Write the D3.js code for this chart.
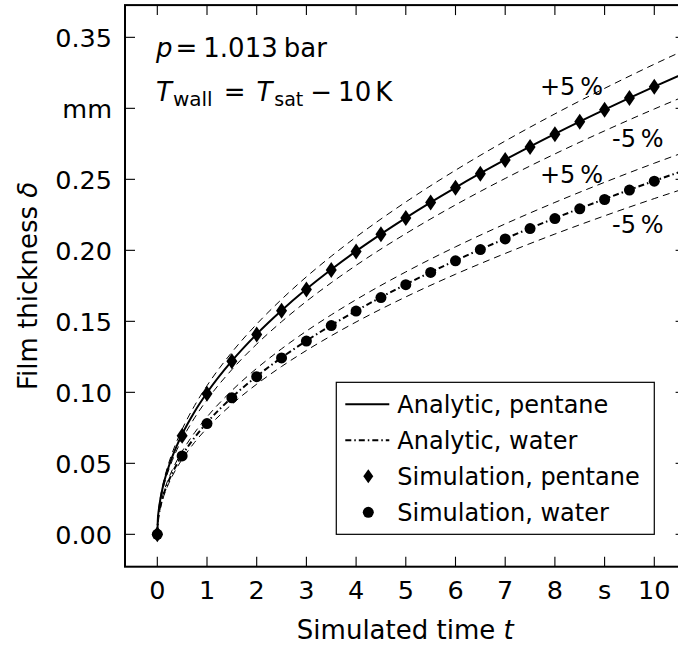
<!DOCTYPE html>
<html>
<head>
<meta charset="utf-8">
<script src="https://cdn.jsdelivr.net/npm/d3@7"></script>
<style>
  html, body { margin: 0; padding: 0; background: #fff; }
  svg { display: block; font-family: "DejaVu Sans", sans-serif; }
</style>
</head>
<body>
<svg id="chart" width="678" height="650"></svg>
<script>
// Simulated time axis (s) and tick labels (unit shown in place of 9)
const timeTicks = [0, 1, 2, 3, 4, 5, 6, 7, 8, 9, 10];
const timeTickLabels = ["0", "1", "2", "3", "4", "5", "6", "7", "8", "s", "10"];

// Film thickness axis (mm) and tick labels (unit shown in place of 0.30)
const deltaTicks = [0, 0.05, 0.10, 0.15, 0.20, 0.25, 0.30, 0.35];
const deltaTickLabels = ["0.00", "0.05", "0.10", "0.15", "0.20", "0.25", "mm", "0.35"];

// Analytic solutions, sampled in time
const analyticTime = [0, 0.01, 0.03, 0.06, 0.1, 0.15, 0.2, 0.3, 0.4, 0.5, 0.75, 1, 1.5, 2, 2.5, 3, 3.5, 4, 5, 6, 7, 8, 9, 10, 10.7];
const analyticPentane = [0, 0.00997, 0.01727, 0.02442, 0.03153, 0.03861, 0.04459, 0.05461, 0.06306, 0.07050, 0.08634, 0.0997, 0.1221, 0.1410, 0.1576, 0.1727, 0.1865, 0.1994, 0.2229, 0.2442, 0.2638, 0.2820, 0.2991, 0.3153, 0.3261];
const analyticWater = [0, 0.00787, 0.01363, 0.01927, 0.02489, 0.03048, 0.03519, 0.04310, 0.04978, 0.05565, 0.06816, 0.0787, 0.0964, 0.1113, 0.1244, 0.1363, 0.1472, 0.1574, 0.1760, 0.1928, 0.2082, 0.2226, 0.2361, 0.2489, 0.2574];

// Simulation results
const simTime = [0, 0.5, 1, 1.5, 2, 2.5, 3, 3.5, 4, 4.5, 5, 5.5, 6, 6.5, 7, 7.5, 8, 8.5, 9, 9.5, 10];
const simPentane = [0, 0.0695, 0.0990, 0.1218, 0.1408, 0.1574, 0.1725, 0.1862, 0.1992, 0.2113, 0.2227, 0.2336, 0.2440, 0.2540, 0.2636, 0.2728, 0.2818, 0.2905, 0.2990, 0.3072, 0.3152];
const simWater = [0, 0.0552, 0.0780, 0.0961, 0.1110, 0.1242, 0.1361, 0.1470, 0.1572, 0.1667, 0.1758, 0.1844, 0.1926, 0.2005, 0.2080, 0.2153, 0.2224, 0.2292, 0.2358, 0.2424, 0.2487];

// Tolerance bands around the analytic solutions
const bandFactors = [1.05, 0.95];
const bandLabels = [
  { text: "+5\u2009%", t: 7.70, d: 0.3094 },
  { text: "-5\u2009%", t: 9.15, d: 0.2728 },
  { text: "+5\u2009%", t: 7.70, d: 0.2473 },
  { text: "-5\u2009%", t: 9.15, d: 0.2121 }
];

const legendItems = ["Analytic, pentane", "Analytic, water", "Simulation, pentane", "Simulation, water"];

const svg = d3.select("#chart");

const x = d3.scaleLinear().domain([-0.65, 10.63]).range([125, 685.6]);
const y = d3.scaleLinear().domain([-0.0228, 0.3727]).range([566.7, 5.1]);

const [xl, xr] = x.range();
const [yb, yt] = y.range();

svg.append("defs").append("clipPath").attr("id", "plot-clip")
  .append("rect").attr("x", xl).attr("y", yt).attr("width", xr - xl).attr("height", yb - yt);

const plot = svg.append("g").attr("clip-path", "url(#plot-clip)");

const line = d3.line()
  .x(d => x(d[0]))
  .y(d => y(d[1]))
  .curve(d3.curveMonotoneX);

const pentanePts = analyticTime.map((t, i) => [t, analyticPentane[i]]);
const waterPts = analyticTime.map((t, i) => [t, analyticWater[i]]);

// dashed ±5 % bands
[pentanePts, waterPts].forEach(pts => {
  bandFactors.forEach(f => {
    plot.append("path")
      .attr("d", line(pts.map(p => [p[0], p[1] * f])))
      .attr("fill", "none")
      .attr("stroke", "#000")
      .attr("stroke-width", 1)
      .attr("stroke-dasharray", "7,5");
  });
});

// analytic curves
plot.append("path")
  .attr("d", line(pentanePts))
  .attr("fill", "none").attr("stroke", "#000").attr("stroke-width", 2);
plot.append("path")
  .attr("d", line(waterPts))
  .attr("fill", "none").attr("stroke", "#000").attr("stroke-width", 2)
  .attr("stroke-dasharray", "6,3,1.5,3");

// simulation markers
const diamond = (cx, cy, w, h) => `M${cx},${cy - h}L${cx + w},${cy}L${cx},${cy + h}L${cx - w},${cy}Z`;
plot.selectAll("path.sim-pentane")
  .data(simTime.map((t, i) => [t, simPentane[i]]))
  .join("path")
  .attr("class", "sim-pentane")
  .attr("d", d => diamond(x(d[0]), y(d[1]), 5.5, 8))
  .attr("fill", "#000");
plot.selectAll("circle.sim-water")
  .data(simTime.map((t, i) => [t, simWater[i]]))
  .join("circle")
  .attr("class", "sim-water")
  .attr("cx", d => x(d[0])).attr("cy", d => y(d[1])).attr("r", 5.5)
  .attr("fill", "#000");

// band labels
svg.selectAll("text.band")
  .data(bandLabels)
  .join("text")
  .attr("class", "band")
  .attr("x", d => x(d.t)).attr("y", d => y(d.d))
  .attr("font-size", 24)
  .text(d => d.text);

// ticks on all four sides, pointing inward
const tickLen = 10;
const ticks = svg.append("g").attr("stroke", "#000").attr("stroke-width", 1.1);
timeTicks.forEach(t => {
  ticks.append("line").attr("x1", x(t)).attr("x2", x(t)).attr("y1", yb).attr("y2", yb - tickLen);
  ticks.append("line").attr("x1", x(t)).attr("x2", x(t)).attr("y1", yt).attr("y2", yt + tickLen);
});
deltaTicks.forEach(d => {
  ticks.append("line").attr("x1", xl).attr("x2", xl + tickLen).attr("y1", y(d)).attr("y2", y(d));
  ticks.append("line").attr("x1", xr).attr("x2", xr - tickLen).attr("y1", y(d)).attr("y2", y(d));
});

// frame
svg.append("rect")
  .attr("x", xl).attr("y", yt).attr("width", xr - xl).attr("height", yb - yt)
  .attr("fill", "none").attr("stroke", "#000").attr("stroke-width", 2);

// tick labels
const tickFont = 25.5;
svg.append("g").selectAll("text")
  .data(timeTicks)
  .join("text")
  .attr("x", d => x(d)).attr("y", 599)
  .attr("text-anchor", "middle")
  .attr("font-size", tickFont)
  .text((d, i) => timeTickLabels[i]);
svg.append("g").selectAll("text")
  .data(deltaTicks)
  .join("text")
  .attr("x", 112).attr("y", d => y(d) + 0.3645 * tickFont)
  .attr("text-anchor", "end")
  .attr("font-size", tickFont)
  .text((d, i) => deltaTickLabels[i]);

// axis titles
const xTitle = svg.append("text")
  .attr("x", (xl + xr) / 2).attr("y", 639)
  .attr("text-anchor", "middle").attr("font-size", 26);
xTitle.append("tspan").text("Simulated time ");
xTitle.append("tspan").attr("font-style", "italic").text("t");

const yTitle = svg.append("text")
  .attr("transform", `translate(37,${(yt + yb) / 2}) rotate(-90)`)
  .attr("text-anchor", "middle").attr("font-size", 26);
yTitle.append("tspan").text("Film thickness ");
yTitle.append("tspan").attr("font-style", "italic").text("δ");

// operating conditions
const cond1 = svg.append("text").attr("x", 156).attr("y", 57).attr("font-size", 26);
cond1.append("tspan").attr("font-style", "italic").text("p");
cond1.append("tspan").attr("dx", 3).text("=");
cond1.append("tspan").attr("dx", 6).text("1.013");
cond1.append("tspan").attr("dx", 6).text("bar");

const cond2 = svg.append("text").attr("x", 156).attr("y", 101).attr("font-size", 26);
cond2.append("tspan").attr("font-style", "italic").text("T");
cond2.append("tspan").attr("font-size", 20).attr("dy", 5).attr("dx", 1).text("wall");
cond2.append("tspan").attr("dy", -5).attr("dx", 11).text("=");
cond2.append("tspan").attr("dx", 11).attr("font-style", "italic").text("T");
cond2.append("tspan").attr("font-size", 19).attr("dy", 5).attr("dx", 2).text("sat");
cond2.append("tspan").attr("dy", -5).attr("dx", 7).text("\u2212");
cond2.append("tspan").attr("dx", 6).text("10");
cond2.append("tspan").attr("dx", 4).text("K");

// legend
const lgRight = x(10), lgBottom = y(0);
const lgW = 318, lgH = 152;
const lg = svg.append("g").attr("transform", `translate(${lgRight - lgW},${lgBottom - lgH})`);
lg.append("rect").attr("width", lgW).attr("height", lgH)
  .attr("fill", "#fff").attr("stroke", "#000").attr("stroke-width", 1.2);
const rowY = i => 22 + i * 36;
lg.append("line").attr("x1", 9).attr("x2", 53).attr("y1", rowY(0)).attr("y2", rowY(0))
  .attr("stroke", "#000").attr("stroke-width", 2);
lg.append("line").attr("x1", 9).attr("x2", 53).attr("y1", rowY(1)).attr("y2", rowY(1))
  .attr("stroke", "#000").attr("stroke-width", 2).attr("stroke-dasharray", "6,3,1.5,3");
lg.append("path").attr("d", diamond(32, rowY(2), 5, 7)).attr("fill", "#000");
lg.append("circle").attr("cx", 32).attr("cy", rowY(3)).attr("r", 5.5).attr("fill", "#000");
lg.selectAll("text.item")
  .data(legendItems)
  .join("text")
  .attr("class", "item")
  .attr("x", 61).attr("y", (d, i) => rowY(i) + 9)
  .attr("font-size", 24)
  .text(d => d);
</script>
</body>
</html>
